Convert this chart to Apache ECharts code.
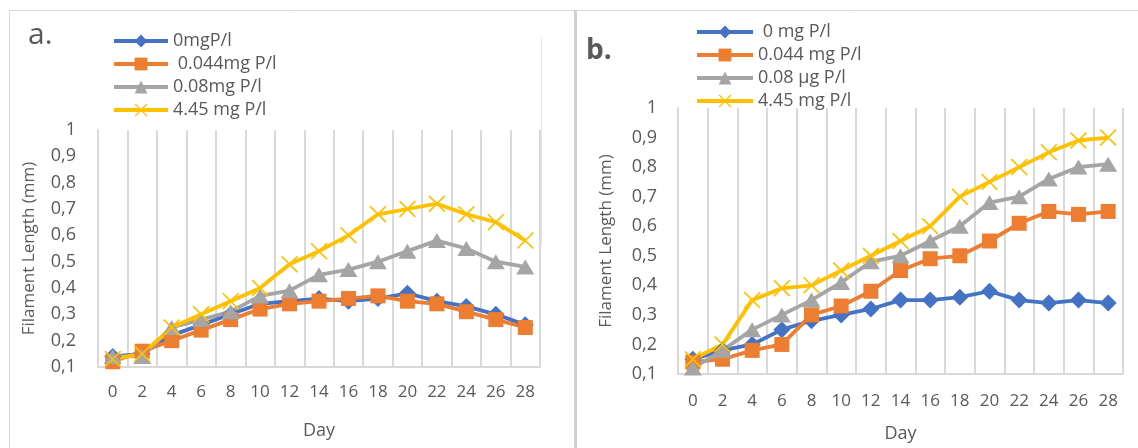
<!DOCTYPE html>
<html>
<head>
<meta charset="utf-8">
<script src="https://cdn.jsdelivr.net/npm/echarts@6/dist/echarts.min.js"></script>
<style>
html,body{margin:0;padding:0;background:#fff;}
#chart{width:1138px;height:448px;}
</style>
</head>
<body>
<div id="chart"></div>
<script>
// ---- Data ----
const days = ['0','2','4','6','8','10','12','14','16','18','20','22','24','26','28'];
const yTicks = [0.1,0.2,0.3,0.4,0.5,0.6,0.7,0.8,0.9,1];

const namesA = ['0mgP/l', ' 0.044mg P/l', '0.08mg P/l', '4.45 mg P/l'];
const namesB = [' 0 mg P/l', '0.044 mg P/l', '0.08 µg P/l', '4.45 mg P/l '];

// Panel a
const a0    = [0.14,0.15,0.22,0.26,0.30,0.34,0.35,0.36,0.35,0.36,0.38,0.35,0.33,0.30,0.26];
const a044  = [0.12,0.16,0.20,0.24,0.28,0.32,0.34,0.35,0.36,0.37,0.35,0.34,0.31,0.28,0.25];
const a08   = [0.14,0.14,0.25,0.28,0.31,0.37,0.39,0.45,0.47,0.50,0.54,0.58,0.55,0.50,0.48];
const a445  = [0.13,0.15,0.25,0.30,0.35,0.40,0.49,0.54,0.60,0.68,0.70,0.72,0.68,0.65,0.58];

// Panel b
const b0    = [0.15,0.18,0.20,0.25,0.28,0.30,0.32,0.35,0.35,0.36,0.38,0.35,0.34,0.35,0.34];
const b044  = [0.14,0.15,0.18,0.20,0.30,0.33,0.38,0.45,0.49,0.50,0.55,0.61,0.65,0.64,0.65];
const b08   = [0.12,0.18,0.25,0.30,0.35,0.41,0.48,0.50,0.55,0.60,0.68,0.70,0.76,0.80,0.81];
const b445  = [0.15,0.20,0.35,0.39,0.40,0.45,0.50,0.55,0.60,0.70,0.75,0.80,0.85,0.89,0.90];

// ---- Style ----
const colors = ['#4472C4','#ED7D31','#A5A5A5','#FFC000'];
const xPath = 'path://M0,0.7L0.7,0L5,4.3L9.3,0L10,0.7L5.7,5L10,9.3L9.3,10L5,5.7L0.7,10L0,9.3L4.3,5Z';
const symbols = ['diamond','rect','triangle', xPath];
const symSizes = [[17,17],15,[18,15],17];
const txt = '#595959';
const grey = '#d9d9d9';
const font = 'Open Sans';

function fmt(v){ return (Math.round(v*10)/10).toString().replace('.',','); }

function mkSeries(names, arrays, idx){
  return arrays.map((d,i)=>({
    name: names[i], type:'line', xAxisIndex: idx, yAxisIndex: idx,
    data: d, symbol: symbols[i], symbolSize: symSizes[i],
    showAllSymbol: true,
    lineStyle:{color:colors[i], width:3.8},
    itemStyle:{color:colors[i]},
    animation:false
  }));
}

function xAx(idx, labelMargin, nameGap){
  return {
    type:'category', gridIndex: idx, data: days, boundaryGap: true,
    axisLine:{show:true, lineStyle:{color:grey, width:2}},
    axisTick:{show:false},
    axisLabel:{color:txt, fontSize:17, fontFamily:font, margin:labelMargin, interval:0},
    splitLine:{show:true, lineStyle:{color:grey, width:2}},
    name:'Day', nameLocation:'middle', nameGap:nameGap,
    nameTextStyle:{color:txt, fontSize:18, fontFamily:font}
  };
}
function yAx(idx, labelMargin, nameGap){
  return {
    type:'value', gridIndex: idx, min: yTicks[0], max: yTicks[yTicks.length-1], interval:0.1,
    axisLine:{show:true, lineStyle:{color:grey, width:2}},
    axisTick:{show:false},
    splitLine:{show:false},
    axisLabel:{color:txt, fontSize:18, fontFamily:font, margin:labelMargin, formatter: fmt},
    name:'Filament Length (mm)', nameLocation:'middle', nameGap:nameGap, nameRotate:90,
    nameTextStyle:{color:txt, fontSize:17, fontFamily:font}
  };
}

const chart = echarts.init(document.getElementById('chart'));
chart.setOption({
  backgroundColor:'#fff',
  animation:false,
  color: colors,
  grid:[
    {left:98, top:130, width:442, height:237},
    {left:678, top:108, width:445, height:270}
  ],
  xAxis:[ xAx(0, 17, 55), xAx(1, 19, 51) ],
  yAxis:[ yAx(0, 22, 60), yAx(1, 21, 63) ],
  legend:[
    {data:namesA, orient:'vertical', left:107, top:27, padding:5, itemWidth:54, itemHeight:16, itemGap:5,
     lineStyle:{width:4}, textStyle:{color:txt, fontSize:18, fontFamily:font}},
    {data:namesB, orient:'vertical', left:690, top:18, padding:5, itemWidth:56, itemHeight:16, itemGap:5,
     lineStyle:{width:4}, textStyle:{color:txt, fontSize:18, fontFamily:font}}
  ],
  graphic:[
    {type:'line', shape:{x1:9,y1:10.5,x2:1138,y2:10.5}, style:{stroke:grey, lineWidth:1}, silent:true},
    {type:'line', shape:{x1:9.5,y1:10,x2:9.5,y2:448}, style:{stroke:grey, lineWidth:1}, silent:true},
    {type:'line', shape:{x1:575.5,y1:10,x2:575.5,y2:448}, style:{stroke:'#d0d0d0', lineWidth:3}, silent:true},
    {type:'line', shape:{x1:541.5,y1:37,x2:541.5,y2:245}, style:{stroke:'#e6e6e6', lineWidth:1}, silent:true},
    {type:'text', left:28, top:20, style:{text:'a.', fill:txt, font:'30px "Open Sans"'}},
    {type:'text', left:586, top:37, style:{text:'b.', fill:txt, font:'bold 28px "Open Sans"'}}
  ],
  series: [].concat(
    mkSeries(namesA, [a0,a044,a08,a445], 0),
    mkSeries(namesB, [b0,b044,b08,b445], 1)
  )
});
</script>
</body>
</html>
